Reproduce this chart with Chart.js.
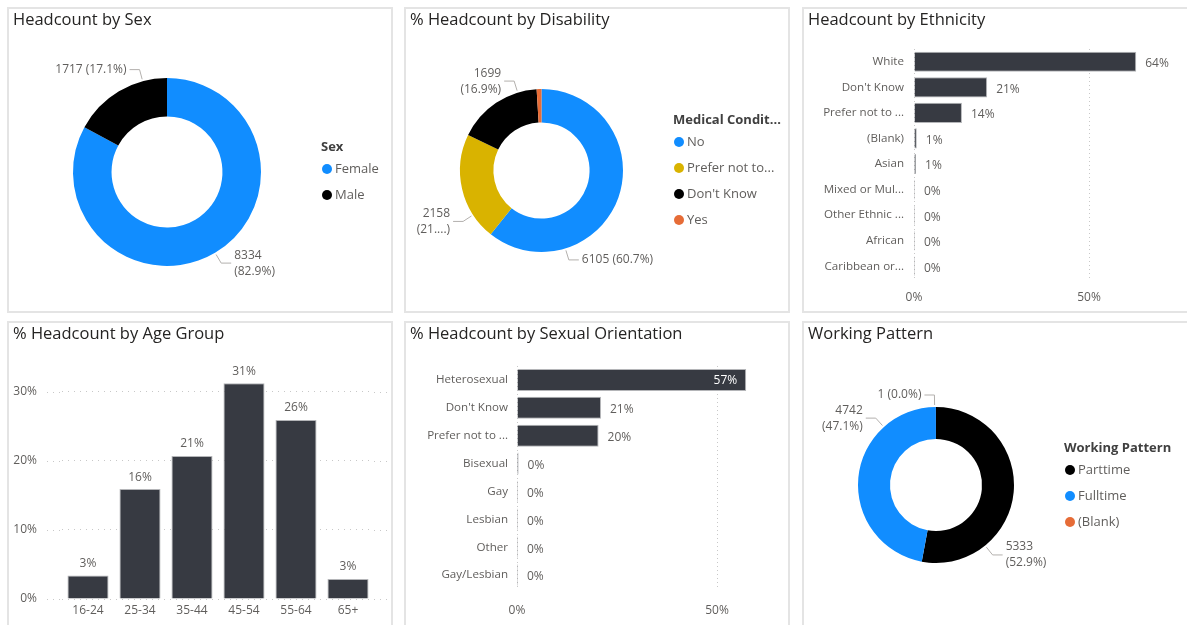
<!DOCTYPE html>
<html>
<head>
<meta charset="utf-8">
<script src="https://cdn.jsdelivr.net/npm/chart.js@4.4.1/dist/chart.umd.min.js"></script>
<style>
html, body { margin: 0; padding: 0; background: #fff; overflow: hidden; width: 1187px; height: 625px; }
.panel { position: absolute; box-sizing: border-box; border: 2px solid #E4E4E4; background: #fff; overflow: hidden; }
.panel canvas { position: absolute; left: 0; top: 0; }
.title { position: absolute; left: 4px; top: -2px; font: 16.5px 'Open Sans', sans-serif; color: #252423; white-space: nowrap; }
</style>
</head>
<body>
<div class="panel" style="left:7px;top:7px;width:386px;height:306px">
  <canvas id="sexChart" width="382" height="302"></canvas>
  <div class="title">Headcount by Sex</div>
</div>
<div class="panel" style="left:404px;top:7px;width:386px;height:306px">
  <canvas id="disabilityChart" width="382" height="302"></canvas>
  <div class="title">% Headcount by Disability</div>
</div>
<div class="panel" style="left:802px;top:7px;width:390px;height:306px">
  <canvas id="ethnicityChart" width="386" height="302"></canvas>
  <div class="title">Headcount by Ethnicity</div>
</div>
<div class="panel" style="left:7px;top:321px;width:386px;height:320px">
  <canvas id="ageChart" width="382" height="302"></canvas>
  <div class="title">% Headcount by Age Group</div>
</div>
<div class="panel" style="left:404px;top:321px;width:386px;height:320px">
  <canvas id="orientationChart" width="382" height="302"></canvas>
  <div class="title">% Headcount by Sexual Orientation</div>
</div>
<div class="panel" style="left:802px;top:321px;width:390px;height:320px">
  <canvas id="patternChart" width="386" height="302"></canvas>
  <div class="title">Working Pattern</div>
</div>

<script>
// data
const sexLabels = ["Female", "Male"];
const sexCounts = [8334, 1717];
const sexColors = ["#118DFF", "#000000"];

const disabilityLabels = ["No", "Prefer not to...", "Don't Know", "Yes"];
const disabilityCounts = [6105, 2158, 1699, 96];
const disabilityColors = ["#118DFF", "#D9B300", "#000000", "#E66C37"];

const ethnicityLabels = ["White", "Don't Know", "Prefer not to ...", "(Blank)", "Asian",
    "Mixed or Mul...", "Other Ethnic ...", "African", "Caribbean or..."];
const ethnicityPct = [63.5, 20.9, 13.7, 0.8, 0.6, 0.2, 0.1, 0.1, 0.1];

const ageLabels = ["16-24", "25-34", "35-44", "45-54", "55-64", "65+"];
const agePct = [3.4, 15.9, 20.7, 31.2, 25.9, 2.9];

const orientationLabels = ["Heterosexual", "Don't Know", "Prefer not to ...", "Bisexual",
    "Gay", "Lesbian", "Other", "Gay/Lesbian"];
const orientationPct = [57.3, 21.0, 20.4, 0.4, 0.2, 0.2, 0.2, 0.2];

const patternLabels = ["Parttime", "Fulltime", "(Blank)"];
const patternCounts = [5333, 4742, 1];
const patternColors = ["#000000", "#118DFF", "#E66C37"];

const font = "'Open Sans', sans-serif";
const textGray = "#605E5C";
const barFill = "#373A42";
const barEdge = "#B4B5B8";
const gridGray = "#C8C8C8";

Chart.defaults.font.family = font;
Chart.defaults.color = textGray;
Chart.defaults.animation = false;
Chart.defaults.responsive = false;
Chart.defaults.plugins.legend.display = false;
Chart.defaults.plugins.tooltip.enabled = false;

// value labels for the bar charts
const valueLabels = {
    id: "valueLabels",
    afterDatasetsDraw(chart) {
        const ctx = chart.ctx;
        const data = chart.data.datasets[0].data;
        const horizontal = chart.options.indexAxis === "y";
        ctx.save();
        ctx.font = "12px " + font;
        ctx.textBaseline = "middle";
        chart.getDatasetMeta(0).data.forEach((bar, i) => {
            const text = Math.round(data[i]) + "%";
            if (horizontal) {
                const w = ctx.measureText(text).width;
                if (bar.x + 9 + w > chart.chartArea.right + 10) {
                    ctx.fillStyle = "#fff";
                    ctx.textAlign = "right";
                    ctx.fillText(text, bar.x - 9, bar.y + 1);
                } else {
                    ctx.fillStyle = textGray;
                    ctx.textAlign = "left";
                    ctx.fillText(text, bar.x + 9, bar.y + 2);
                }
            } else {
                ctx.fillStyle = textGray;
                ctx.textAlign = "center";
                ctx.fillText(text, bar.x, bar.y - 12);
            }
        });
        ctx.restore();
    }
};

// power bi draws the value gridlines a little past the plot on both sides
const gridOverhang = {
    id: "gridOverhang",
    beforeDatasetsDraw(chart, args, opts) {
        const ctx = chart.ctx, area = chart.chartArea, y = chart.scales.y;
        ctx.save();
        ctx.strokeStyle = gridGray;
        ctx.lineWidth = 1;
        ctx.setLineDash([1, 5]);
        y.ticks.forEach(t => {
            const py = Math.round(y.getPixelForValue(t.value)) + 0.5;
            ctx.beginPath();
            ctx.moveTo(area.left - opts.left, py);
            ctx.lineTo(area.left, py);
            ctx.moveTo(area.right, py);
            ctx.lineTo(area.right + opts.right, py);
            ctx.stroke();
        });
        ctx.restore();
    }
};

// outside labels with leader lines for the donuts
// anchors: where the leader line leaves the ring, degrees clockwise from the top
const donutLabels = {
    id: "donutLabels",
    afterDatasetsDraw(chart, args, opts) {
        const ctx = chart.ctx;
        const data = chart.data.datasets[0].data;
        const total = data.reduce((a, b) => a + b, 0);
        ctx.save();
        ctx.font = "12px " + font;
        ctx.textBaseline = "middle";
        ctx.strokeStyle = "#B3B0AD";
        ctx.lineWidth = 1;
        chart.getDatasetMeta(0).data.forEach((arc, i) => {
            const mode = opts.modes[i];
            if (mode === "none") return;
            const a = opts.anchors && opts.anchors[i] != null
                ? (opts.anchors[i] - 90) * Math.PI / 180
                : (arc.startAngle + arc.endAngle) / 2;
            const r0 = arc.outerRadius + 2, r1 = arc.outerRadius + 12;
            const x0 = arc.x + Math.cos(a) * r0, y0 = arc.y + Math.sin(a) * r0;
            const x1 = arc.x + Math.cos(a) * r1, y1 = arc.y + Math.sin(a) * r1;
            const right = Math.cos(a) >= 0;
            const x2 = x1 + (right ? 10 : -10);
            ctx.beginPath();
            ctx.moveTo(x0, y0);
            ctx.lineTo(x1, y1);
            ctx.lineTo(x2, y1);
            ctx.stroke();
            const pct = (data[i] / total * 100).toFixed(1) + "%";
            let lines;
            if (mode === "line") lines = [data[i] + " (" + pct + ")"];
            else if (mode === "clip") lines = [String(data[i]), "(" + pct.slice(0, 2) + "....)"];
            else lines = [String(data[i]), "(" + pct + ")"];
            ctx.fillStyle = textGray;
            ctx.textAlign = right ? "left" : "right";
            const top = y1 - (lines.length - 1) * 16 / 2;
            lines.forEach((l, k) => ctx.fillText(l, x2 + (right ? 3 : -3), top + k * 16));
        });
        ctx.restore();
    }
};

// circle legend with a bold title
const sideLegend = {
    id: "sideLegend",
    afterDraw(chart, args, opts) {
        const ctx = chart.ctx;
        const colors = chart.data.datasets[0].backgroundColor;
        ctx.save();
        ctx.textBaseline = "middle";
        ctx.textAlign = "left";
        ctx.font = "bold 13px " + font;
        ctx.fillStyle = "#404040";
        ctx.fillText(opts.title, opts.x - 1, opts.y);
        ctx.font = "13px " + font;
        chart.data.labels.forEach((label, i) => {
            const y = opts.y + 22 + i * 26;
            ctx.fillStyle = colors[i];
            ctx.beginPath();
            ctx.arc(opts.x + 5, y, 5, 0, Math.PI * 2);
            ctx.fill();
            ctx.fillStyle = textGray;
            ctx.fillText(label, opts.x + 13, y);
        });
        ctx.restore();
    }
};

function donut(id, labels, values, colors, radius, padding, labelOpts, legend) {
    return new Chart(document.getElementById(id), {
        type: "doughnut",
        data: {
            labels: labels,
            datasets: [{ data: values, backgroundColor: colors, borderWidth: 0 }]
        },
        options: {
            radius: radius,
            cutout: "59%",
            layout: { padding: padding },
            plugins: { donutLabels: labelOpts, sideLegend: legend }
        },
        plugins: [donutLabels, sideLegend]
    });
}

function hbar(id, labels, values, max, padding, axisWidth, axisHeight, labelPad, tickPad) {
    return new Chart(document.getElementById(id), {
        type: "bar",
        data: {
            labels: labels,
            datasets: [{
                data: values, backgroundColor: barFill, borderColor: barEdge, borderWidth: 1,
                categoryPercentage: 1, barPercentage: 0.79, minBarLength: 1
            }]
        },
        options: {
            indexAxis: "y",
            layout: { padding: padding },
            scales: {
                x: {
                    min: 0, max: max,
                    grid: { color: gridGray, drawTicks: false },
                    border: { display: false, dash: [1, 3] },
                    ticks: { padding: tickPad, font: { size: 12 }, callback: v => v + "%" },
                    afterBuildTicks(s) { s.ticks = [{ value: 0 }, { value: 50 }]; },
                    afterFit(s) { s.height = axisHeight; }
                },
                y: {
                    grid: { display: false, drawTicks: false },
                    border: { display: false },
                    ticks: { padding: labelPad, font: { size: 11.6 } },
                    afterFit(s) { s.width = axisWidth; }
                }
            }
        },
        plugins: [valueLabels]
    });
}

donut("sexChart", sexLabels, sexCounts, sexColors, 94,
    { left: 0, right: 66, top: 24, bottom: 0 },
    { modes: ["wrap", "line"], anchors: [null, 345] },
    { title: "Sex", x: 313, y: 138 });

donut("disabilityChart", disabilityLabels, disabilityCounts, disabilityColors, 81.5,
    { left: 0, right: 111, top: 21, bottom: 0 },
    { modes: ["line", "clip", "wrap", "none"], anchors: [163, 237, 343, null] },
    { title: "Medical Condit...", x: 268, y: 111 });

donut("patternChart", patternLabels, patternCounts, patternColors, 78,
    { left: 0, right: 122, top: 22, bottom: 0 },
    { modes: ["wrap", "wrap", "line"], anchors: [141, 318, 359] },
    { title: "Working Pattern", x: 261, y: 125 });

hbar("ethnicityChart", ethnicityLabels, ethnicityPct, 72,
    { left: 0, right: 24, top: 40, bottom: 0 }, 110, 32, 10, 11);

hbar("orientationChart", orientationLabels, orientationPct, 60,
    { left: 0, right: 31, top: 43, bottom: 0 }, 111, 36, 9, 14);

new Chart(document.getElementById("ageChart"), {
    type: "bar",
    data: {
        labels: ageLabels,
        datasets: [{
            data: agePct, backgroundColor: barFill, borderColor: barEdge, borderWidth: 1,
            categoryPercentage: 1, barPercentage: 0.79
        }]
    },
    options: {
        layout: { padding: { left: 0, right: 17, top: 41, bottom: 0 } },
        scales: {
            x: {
                grid: { display: false, drawTicks: false },
                border: { display: false },
                ticks: { padding: 4, maxRotation: 0, minRotation: 0, font: { size: 12 } },
                afterFit(s) { s.height = 26; }
            },
            y: {
                min: 0, max: 34,
                grid: { color: gridGray, drawTicks: false },
                border: { display: false, dash: [1, 5] },
                ticks: { stepSize: 10, includeBounds: false, padding: 25, font: { size: 12 }, callback: v => v + "%" },
                // the wide label padding would otherwise be reserved above and below the plot too
                afterFit(s) { s.width = 53; s.paddingTop = 8; s.paddingBottom = 8; }
            }
        },
        plugins: { gridOverhang: { left: 15, right: 16 } }
    },
    plugins: [gridOverhang, valueLabels]
});
</script>
</body>
</html>
